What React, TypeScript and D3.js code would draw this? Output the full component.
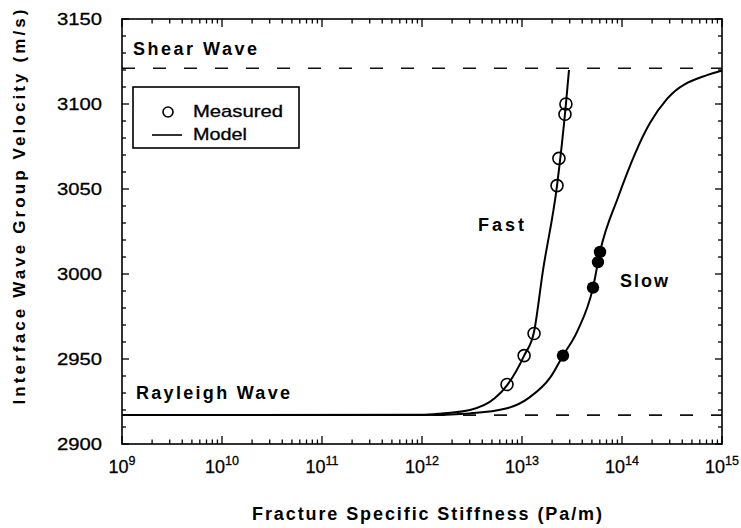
import React, { useEffect, useRef } from "react";
import * as d3 from "d3";

// Model curves (fracture specific stiffness Pa/m, group velocity m/s)
const fastModelK = [1e9, 1e12, 1.58e12, 3.02e12, 5.37e12, 7.08e12, 1.05e13, 1.32e13, 1.62e13, 2.24e13, 2.75e13, 2.95e13];
const fastModelV = [2917, 2917.2, 2918, 2920, 2927, 2934.5, 2952, 2966, 3002, 3052, 3100, 3120];

const slowModelK = [1e9, 1e12, 3.02e12, 7.08e12, 1.2e13, 1.91e13, 2.57e13, 3.55e13, 5.13e13, 6.03e13, 9.12e13, 1.91e14, 2.82e14, 7.08e14, 9.12e14, 1e15];
const slowModelV = [2917, 2917, 2918, 2921, 2927.6, 2939, 2952, 2966, 2992, 3013, 3045, 3089, 3103, 3117, 3119, 3119.5];

// Measured points
const fastMeasuredK = [7.08e12, 1.05e13, 1.32e13, 2.24e13, 2.34e13, 2.69e13, 2.75e13];
const fastMeasuredV = [2935, 2952, 2965, 3052, 3068, 3094, 3100];
const slowMeasuredK = [2.57e13, 5.13e13, 5.75e13, 6.03e13];
const slowMeasuredV = [2952, 2992, 3007, 3013];

const shearVelocity = 3121;
const rayleighVelocity = 2917;

const yTicks = [2900, 2950, 3000, 3050, 3100, 3150];
const xTickExponents = [9, 10, 11, 12, 13, 14, 15];

const FONT = "'Liberation Sans', Arial, Helvetica, sans-serif";

export default function App() {
  const svgRef = useRef<SVGSVGElement>(null);

  useEffect(() => {
    const width = 741;
    const height = 528;
    const margin = { top: 19, right: 19, bottom: 84, left: 122 };
    const innerW = width - margin.left - margin.right;
    const innerH = height - margin.top - margin.bottom;

    const svg = d3.select(svgRef.current).attr("width", width).attr("height", height);
    svg.selectAll("*").remove();
    svg.append("rect").attr("width", width).attr("height", height).attr("fill", "#fff");

    const x = d3.scaleLog().domain([1e9, 1e15]).range([0, innerW]);
    const y = d3.scaleLinear().domain([2900, 3150]).range([innerH, 0]);

    const g = svg.append("g").attr("transform", `translate(${margin.left},${margin.top})`);

    // Reference wave velocities
    [shearVelocity, rayleighVelocity].forEach((v) => {
      g.append("line")
        .attr("x1", 0)
        .attr("x2", innerW)
        .attr("y1", y(v))
        .attr("y2", y(v))
        .attr("stroke", "#111")
        .attr("stroke-width", 1.6)
        .attr("stroke-dasharray", "13 18");
    });

    // Model curves
    const line = d3
      .line<[number, number]>()
      .x((d) => x(d[0]))
      .y((d) => y(d[1]))
      .curve(d3.curveMonotoneX);
    const fastModel = fastModelK.map((k, i) => [k, fastModelV[i]] as [number, number]);
    const slowModel = slowModelK.map((k, i) => [k, slowModelV[i]] as [number, number]);
    [fastModel, slowModel].forEach((pts) => {
      g.append("path")
        .datum(pts)
        .attr("fill", "none")
        .attr("stroke", "#000")
        .attr("stroke-width", 2)
        .attr("d", line);
    });

    // Measured points
    g.append("g")
      .selectAll("circle")
      .data(fastMeasuredK.map((k, i) => [k, fastMeasuredV[i]]))
      .join("circle")
      .attr("cx", (d) => x(d[0]))
      .attr("cy", (d) => y(d[1]))
      .attr("r", 6)
      .attr("fill", "none")
      .attr("stroke", "#000")
      .attr("stroke-width", 1.6);

    g.append("g")
      .selectAll("circle")
      .data(slowMeasuredK.map((k, i) => [k, slowMeasuredV[i]]))
      .join("circle")
      .attr("cx", (d) => x(d[0]))
      .attr("cy", (d) => y(d[1]))
      .attr("r", 6.2)
      .attr("fill", "#000");

    // Frame
    g.append("rect")
      .attr("width", innerW)
      .attr("height", innerH)
      .attr("fill", "none")
      .attr("stroke", "#000")
      .attr("stroke-width", 1.6);

    // Y ticks (left + right, inward)
    const yMinor = d3.range(2900, 3151, 10);
    yMinor.forEach((v) => {
      const len = v % 50 === 0 ? 7 : 4;
      g.append("line").attr("x1", 0).attr("x2", len).attr("y1", y(v)).attr("y2", y(v)).attr("stroke", "#000").attr("stroke-width", 1.3);
      g.append("line").attr("x1", innerW).attr("x2", innerW - len).attr("y1", y(v)).attr("y2", y(v)).attr("stroke", "#000").attr("stroke-width", 1.3);
    });

    // X ticks (bottom + top, inward, log minors)
    const xAll: number[] = [];
    for (let e = 9; e < 15; e++) for (let m = 1; m <= 9; m++) xAll.push(m * Math.pow(10, e));
    xAll.push(1e15);
    xAll.forEach((k) => {
      const major = Math.abs(Math.log10(k) - Math.round(Math.log10(k))) < 1e-9;
      const len = major ? 8 : 4.5;
      g.append("line").attr("x1", x(k)).attr("x2", x(k)).attr("y1", innerH).attr("y2", innerH - len).attr("stroke", "#000").attr("stroke-width", 1.3);
      g.append("line").attr("x1", x(k)).attr("x2", x(k)).attr("y1", 0).attr("y2", len).attr("stroke", "#000").attr("stroke-width", 1.3);
    });

    // Y tick labels
    g.append("g")
      .selectAll("text")
      .data(yTicks)
      .join("text")
      .attr("x", -20)
      .attr("y", (d) => y(d) + 6)
      .attr("text-anchor", "end")
      .style("font-family", FONT)
      .style("font-size", "17px")
      .attr("stroke", "#000")
      .attr("stroke-width", 0.3)
      .attr("textLength", 45)
      .attr("lengthAdjust", "spacingAndGlyphs")
      .text((d) => d);

    // X tick labels (10^n)
    xTickExponents.forEach((e) => {
      const t = g
        .append("text")
        .attr("x", x(Math.pow(10, e)))
        .attr("y", innerH + 29)
        .attr("text-anchor", "middle")
        .style("font-family", FONT)
        .style("font-size", "18px")
        .attr("stroke", "#000")
        .attr("stroke-width", 0.3);
      t.append("tspan").text("10");
      t.append("tspan").attr("dy", -8).style("font-size", "12.5px").text(String(e));
    });

    // In-plot labels
    const label = (txt: string, lx: number, ly: number, len: number) =>
      svg
        .append("text")
        .attr("x", lx)
        .attr("y", ly)
        .style("font-family", FONT)
        .style("font-size", "18px")
        .style("font-weight", "bold")
        .attr("textLength", len)
        .attr("lengthAdjust", "spacing")
        .text(txt);
    label("Shear Wave", 133, 55, 124);
    label("Rayleigh Wave", 136, 399, 154);
    label("Fast", 478, 231, 46);
    label("Slow", 620, 287, 48);

    // Legend
    const lg = svg.append("g");
    lg.append("rect")
      .attr("x", 133)
      .attr("y", 87)
      .attr("width", 166)
      .attr("height", 61)
      .attr("fill", "#fff")
      .attr("stroke", "#000")
      .attr("stroke-width", 1.6);
    lg.append("circle").attr("cx", 168).attr("cy", 112).attr("r", 5).attr("fill", "none").attr("stroke", "#000").attr("stroke-width", 1.6);
    lg.append("line").attr("x1", 152).attr("x2", 182).attr("y1", 135).attr("y2", 135).attr("stroke", "#000").attr("stroke-width", 1.6);
    lg.append("text").attr("x", 193).attr("y", 117).style("font-family", FONT).style("font-size", "17px").attr("stroke", "#000").attr("stroke-width", 0.3).attr("textLength", 90).attr("lengthAdjust", "spacingAndGlyphs").text("Measured");
    lg.append("text").attr("x", 193).attr("y", 140).style("font-family", FONT).style("font-size", "17px").attr("stroke", "#000").attr("stroke-width", 0.3).attr("textLength", 54).attr("lengthAdjust", "spacingAndGlyphs").text("Model");

    // Axis titles
    svg
      .append("text")
      .attr("x", 252)
      .attr("y", 520)
      .style("font-family", FONT)
      .style("font-size", "18px")
      .style("font-weight", "bold")
      .attr("textLength", 350)
      .attr("lengthAdjust", "spacing")
      .text("Fracture Specific Stiffness (Pa/m)");

    svg
      .append("text")
      .attr("transform", "translate(25,207) rotate(-90)")
      .attr("text-anchor", "middle")
      .style("font-family", FONT)
      .style("font-size", "17px")
      .style("font-weight", "bold")
      .attr("textLength", 395)
      .attr("lengthAdjust", "spacing")
      .text("Interface Wave Group Velocity (m/s)");
  }, []);

  return <svg ref={svgRef} style={{ position: "absolute", left: 0, top: 0, display: "block" }} />;
}
